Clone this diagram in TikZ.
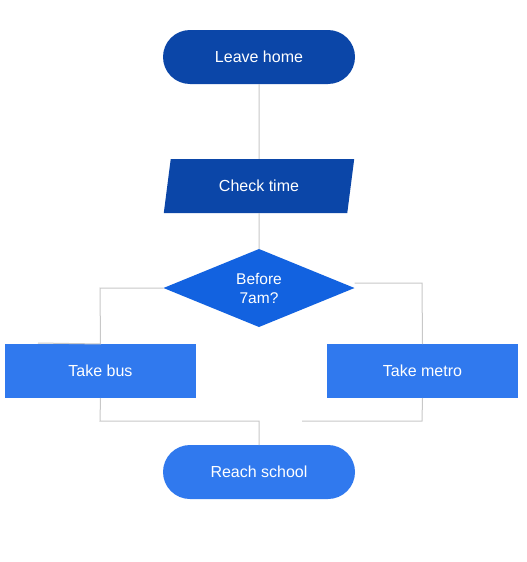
\documentclass[tikz,border=0pt]{standalone}
\usepackage{fontspec}
\setmainfont{Liberation Sans}
\usetikzlibrary{shapes.geometric,shapes.misc}
\definecolor{darkb}{HTML}{0B46A8}
\definecolor{midb}{HTML}{1262E0}
\definecolor{lightb}{HTML}{3079EE}
\definecolor{conn}{HTML}{C8C8C8}
\begin{document}
\begin{tikzpicture}[x=1pt,y=-1pt,
  every node/.style={text=white,font=\fontsize{16pt}{19pt}\selectfont,inner sep=0pt,outer sep=0pt},
  stadium/.style={draw=none,rounded rectangle,minimum width=192pt,minimum height=54pt},
  procbox/.style={draw=none,rectangle,minimum width=191pt,minimum height=54pt,fill=lightb},
  conline/.style={draw=conn,line width=1pt}]
\useasboundingbox (0,0) rectangle (527,562);
\fill[white] (0,0) rectangle (527,562);
\node[stadium,fill=darkb] (home) at (259,57) {Leave home};
\node[fill=darkb,trapezium,trapezium left angle=75,trapezium right angle=105,minimum width=192pt,minimum height=54pt,trapezium stretches=true] (check) at (259,186) {Check time};
\node[fill=midb,diamond,aspect=2.45,minimum width=191pt,minimum height=78pt,align=center,font=\fontsize{15.5pt}{19pt}\selectfont] (dec) at (259,288) {Before\\7am?};
\node[procbox] (bus) at (100.5,371) {Take bus};
\node[procbox] (metro) at (422.5,371) {Take metro};
\node[stadium,fill=lightb] (school) at (259,472) {Reach school};
\coordinate (stubL) at (38,343);
\coordinate (jR) at (302,421);
\draw[conline] (home.south) -- (check.north);
\draw[conline] (check.south) -- (dec.north);
\draw[conline] (dec.west) -- (100,288) -- (bus.north);
\draw[conline] (stubL) -- (bus.north);
\draw[conline] (dec.east |- 0,283) -- (422,283) -- (metro.north);
\draw[conline] (bus.south) -- (100,421) -- (259,421) -- (school.north);
\draw[conline] (metro.south) -- (422,421) -- (jR);
\end{tikzpicture}
\end{document}
